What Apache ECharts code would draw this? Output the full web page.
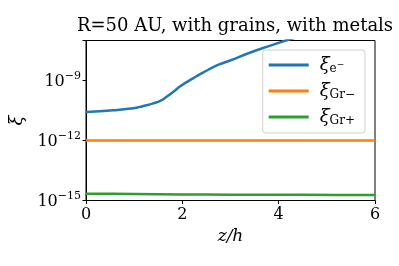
<!DOCTYPE html>
<html><head><meta charset="utf-8">
<script src="https://cdn.jsdelivr.net/npm/echarts@6/dist/echarts.min.js"></script>
<style>html,body{margin:0;padding:0;background:#fff}#c{width:399px;height:266px}</style>
</head><body><div id="c"></div>
<script>
const titleText = 'R=50 AU, with grains, with metals';
const seriesNames = ['e', 'Grm', 'Grp'];
const electronZ = [0, 0.57, 0.98, 1.12, 1.26, 1.40, 1.54, 1.68, 1.82, 1.95, 2.09, 2.23, 2.37, 2.51, 2.64, 2.78, 2.99, 3.40, 3.81, 4.23, 4.6, 5.3, 6.0];
const electronXi = [2.69e-11, 3.24e-11, 4.07e-11, 4.79e-11, 5.75e-11, 7.24e-11, 9.55e-11, 1.58e-10, 2.82e-10, 5.01e-10, 8.32e-10, 1.32e-9, 2.09e-9, 3.16e-9, 4.68e-9, 6.61e-9, 1.0e-8, 2.45e-8, 5.37e-8, 1.15e-7, 2.0e-7, 5.0e-7, 1.12e-6];
const grainMinusZ = [0, 6];
const grainMinusXi = [1.0e-12, 1.0e-12];
const grainPlusZ = [0, 1, 2, 3, 4.5, 6];
const grainPlusXi = [2.19e-15, 2.14e-15, 2.0e-15, 1.95e-15, 1.92e-15, 1.9e-15];
const xTicks = [0, 2, 4, 6];
const yTickExps = [-15, -12, -9];

const colors = ['#1f77b4', '#ff7f0e', '#2ca02c'];
const serif = '"DejaVu Serif", serif';
const pair = (xs, ys) => xs.map((x, i) => [x, ys[i]]);
const legendLabels = {
  e: '{x|ξ}{sub|e}{sup|−}',
  Grm: '{x|ξ}{sub|Gr−}',
  Grp: '{x|ξ}{sub|Gr+}'
};
const chart = echarts.init(document.getElementById('c'), null, {renderer: 'canvas'});
chart.setOption({
  animation: false,
  color: colors,
  title: {
    text: titleText, left: 230, textAlign: 'center', top: 12,
    textStyle: {fontFamily: serif, fontWeight: 'normal', fontSize: 18, color: '#000'}
  },
  grid: {left: 86, right: 24, top: 40.5, bottom: 65.5, show: true, borderColor: '#000', borderWidth: 1, backgroundColor: 'transparent'},
  legend: {
    orient: 'vertical', right: 34, top: 50,
    backgroundColor: 'rgba(255,255,255,0.85)', borderColor: '#d0d0d0', borderWidth: 1, borderRadius: 3,
    padding: [6, 10, 6, 6], itemGap: 7, itemWidth: 40, itemHeight: 3, icon: 'rect',
    data: seriesNames,
    formatter: n => legendLabels[n],
    textStyle: {
      fontFamily: serif, color: '#000', padding: [0, 0, 0, 6],
      rich: {
        x: {fontFamily: serif, fontSize: 18, fontStyle: 'italic', lineHeight: 20, color: '#000'},
        sub: {fontFamily: serif, fontSize: 12, verticalAlign: 'bottom', lineHeight: 15, color: '#000'},
        sup: {fontFamily: serif, fontSize: 9, verticalAlign: 'middle', lineHeight: 15, color: '#000'}
      }
    }
  },
  xAxis: {
    type: 'value', min: 0, max: 6, interval: 2,
    name: 'z/h', nameLocation: 'middle', nameGap: 28,
    nameTextStyle: {fontFamily: serif, fontSize: 17, fontStyle: 'italic', color: '#000'},
    axisLine: {show: true, lineStyle: {color: '#000', width: 1}},
    axisTick: {show: true, inside: false, length: 3.5, lineStyle: {color: '#000'}},
    splitLine: {show: false},
    axisLabel: {fontFamily: serif, fontSize: 16, color: '#000', margin: 6,
      formatter: v => xTicks.includes(v) ? String(v) : ''}
  },
  yAxis: {
    type: 'log', logBase: 10, min: 1e-15, max: 1e-7, interval: 3,
    name: 'ξ', nameLocation: 'middle', nameGap: 56, nameRotate: 90,
    nameTextStyle: {fontFamily: serif, fontSize: 18, fontStyle: 'italic', color: '#000'},
    axisLine: {show: true, lineStyle: {color: '#000', width: 1}},
    axisTick: {show: true, inside: false, length: 3.5, lineStyle: {color: '#000'}},
    splitLine: {show: false},
    axisLabel: {
      margin: 5, color: '#000',
      formatter: v => {
        const e = Math.round(Math.log10(v));
        if (!yTickExps.includes(e) || Math.abs(Math.log10(v) - e) > 1e-6) return '';
        return '{b|10}{s|−' + Math.abs(e) + '}';
      },
      rich: {
        b: {fontFamily: serif, fontSize: 16, color: '#000', lineHeight: 19, verticalAlign: 'bottom'},
        s: {fontFamily: serif, fontSize: 11, color: '#000', lineHeight: 19, verticalAlign: 'top'}
      }
    }
  },
  series: [
    {name: 'e', type: 'line', data: pair(electronZ, electronXi), smooth: 0.5, symbol: 'none', lineStyle: {width: 2.5}, clip: true},
    {name: 'Grm', type: 'line', data: pair(grainMinusZ, grainMinusXi), symbol: 'none', lineStyle: {width: 2.5}, clip: true},
    {name: 'Grp', type: 'line', data: pair(grainPlusZ, grainPlusXi), smooth: 0.3, symbol: 'none', lineStyle: {width: 2.5}, clip: true}
  ]
});
</script></body></html>
